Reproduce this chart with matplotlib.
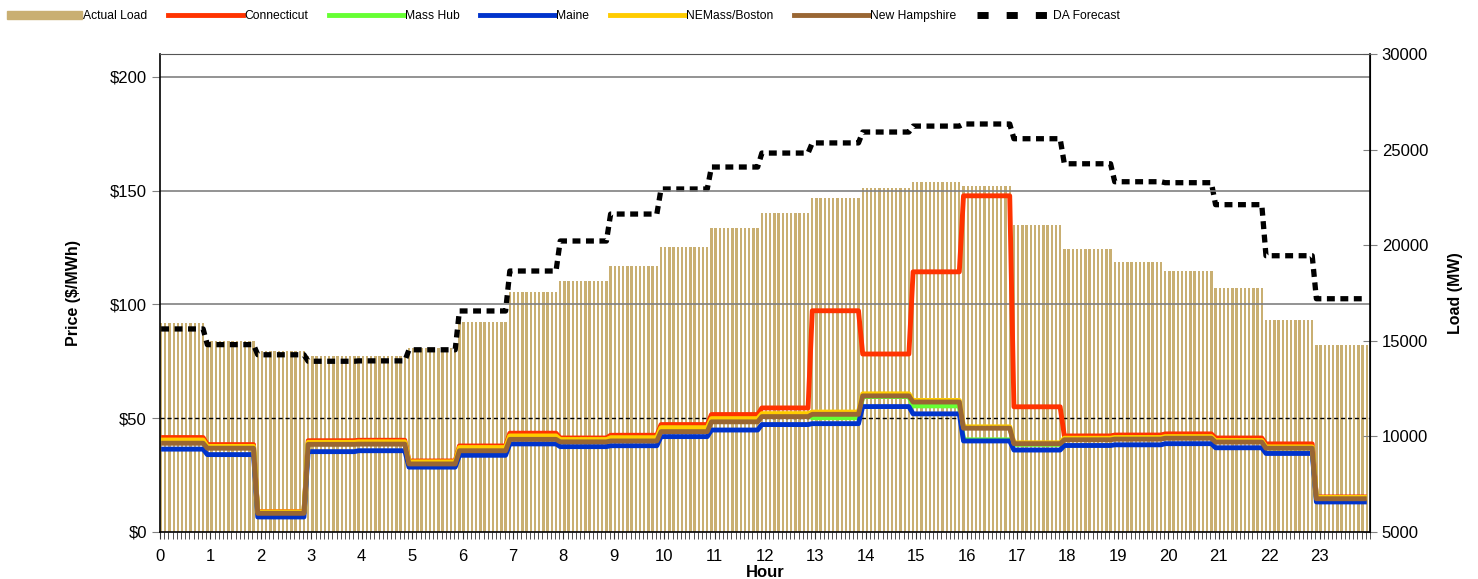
import numpy as np
import matplotlib.pyplot as plt
from matplotlib.ticker import MultipleLocator, FuncFormatter
from matplotlib.lines import Line2D
from matplotlib.patches import Patch

plt.rcParams['font.family'] = ['Liberation Sans', 'DejaVu Sans']

# valores horarios (hora 0 .. 23)
horas = list(range(24))

carga_real = [15950, 15000, 14470, 14200, 14200, 14620, 15980, 17550, 18130, 18910, 19900, 20900,
              21680, 22470, 23000, 23300, 23100, 21060, 19800, 19120, 18650, 17760, 16090, 14780]

pronostico_da = [15620, 14800, 14270, 13930, 13950, 14530, 16560, 18650, 20220, 21630, 22940, 24090,
                 24820, 25350, 25920, 26230, 26340, 25570, 24260, 23320, 23270, 22120, 19450, 17200]

connecticut = [41.5, 38.4, 8.9, 40.1, 40.3, 31.2, 37.8, 43.4, 41.3, 42.5, 47.2, 51.6,
               54.5, 97.2, 78.2, 114.3, 147.7, 55.0, 42.2, 42.6, 43.1, 41.3, 38.7, 15.4]
mass_hub = [40.0, 37.3, 8.4, 39.0, 39.2, 30.3, 36.5, 41.9, 40.4, 41.2, 45.6, 49.5,
            51.5, 50.2, 59.5, 55.4, 40.5, 38.5, 41.0, 41.3, 41.6, 39.8, 37.0, 14.8]
maine = [36.4, 34.0, 6.6, 35.3, 35.7, 28.5, 33.7, 38.7, 37.5, 37.9, 41.9, 44.8,
         47.2, 47.6, 55.1, 51.9, 40.0, 36.0, 38.0, 38.3, 38.8, 37.0, 34.5, 13.2]
nemass_boston = [40.4, 37.6, 8.8, 39.4, 39.6, 30.8, 37.1, 42.2, 40.6, 41.4, 45.8, 49.8,
                 52.0, 52.7, 60.7, 57.8, 46.2, 39.2, 41.2, 41.5, 41.9, 40.2, 37.4, 15.2]
new_hampshire = [39.0, 36.8, 8.2, 38.5, 38.6, 29.9, 35.7, 40.7, 39.6, 40.0, 44.1, 48.4,
                 50.7, 51.7, 59.8, 57.1, 45.6, 38.8, 40.5, 40.8, 41.2, 39.5, 36.8, 14.6]

color_carga = '#C9AF72'
colores = {
    'Connecticut': '#FF3300',
    'Mass Hub': '#66FF33',
    'Maine': '#0033CC',
    'NEMass/Boston': '#FFCC00',
    'New Hampshire': '#996633',
}


def a_cinco_minutos(valores):
    # 12 intervalos de 5 min por hora, el valor de la hora siguiente entra un intervalo antes
    serie = np.repeat(np.asarray(valores, dtype=float), 12)
    return np.r_[serie[1:], serie[-1]]


x = np.arange(len(horas) * 12) / 12 + 1 / 48

fig = plt.figure(figsize=(14.78, 5.79), dpi=100)
fig.subplots_adjust(left=0.1083, right=0.9269, top=0.9067, bottom=0.0812)
ax = fig.add_subplot(111)
ax2 = ax.twinx()
ax.set_zorder(ax2.get_zorder() + 1)
ax.patch.set_visible(False)

# carga (eje derecho)
ax2.bar(x, a_cinco_minutos(carga_real), width=0.56 / 12, color=color_carga, linewidth=0)
ax2.plot(x, a_cinco_minutos(pronostico_da), color='black', lw=3.8,
         ls=(0, (1.5, 1.05)), dash_capstyle='butt', solid_joinstyle='miter')

# precios (eje izquierdo)
series = [('Connecticut', connecticut), ('Mass Hub', mass_hub), ('Maine', maine),
          ('NEMass/Boston', nemass_boston), ('New Hampshire', new_hampshire)]
for nombre, valores in series:
    ax.plot(x, a_cinco_minutos(valores), color=colores[nombre], lw=3.5,
            solid_capstyle='butt')

# lineas de referencia
for y in [100, 150, 200]:
    ax.axhline(y, color='#808080', lw=1.2, zorder=0.5)
ax.axhline(50, color='black', lw=1, ls=(0, (3, 2)), zorder=0.5)

ax.set_xlim(0, 24)
ax.set_ylim(0, 210)
ax2.set_ylim(5000, 30000)

ax.set_xticks(horas)
ax.xaxis.set_minor_locator(MultipleLocator(1 / 12))
ax.set_yticks([0, 50, 100, 150, 200])
ax.yaxis.set_major_formatter(FuncFormatter(lambda v, p: f'${v:.0f}'))
ax2.yaxis.set_major_locator(MultipleLocator(5000))

ax.tick_params(axis='x', which='both', direction='out', length=5, color='#333333',
               labelsize=12, pad=7)
ax.tick_params(axis='y', direction='out', length=6, color='#808080', labelsize=12)
ax2.tick_params(axis='y', direction='inout', length=10, color='#808080', labelsize=12)

for lado in ['left', 'bottom', 'right']:
    ax.spines[lado].set_color('black')
    ax.spines[lado].set_linewidth(1.2)
ax.spines['top'].set_color('#555555')
for lado in ['left', 'bottom', 'top']:
    ax2.spines[lado].set_visible(False)
ax2.spines['right'].set_color('black')

ax.set_ylabel('Price ($/MWh)', fontsize=11.5, fontweight='bold', labelpad=21)
ax2.set_ylabel('Load (MW)', fontsize=11.5, fontweight='bold', labelpad=14)
ax.set_xlabel('Hour', fontsize=12, fontweight='bold', labelpad=1)

# leyenda arriba
manejadores = [Patch(color=color_carga)]
for nombre, _ in series:
    manejadores.append(Line2D([], [], color=colores[nombre], lw=3.5))
manejadores.append(Line2D([], [], color='black', lw=5, ls=(0, (1.6, 2.6)), dash_capstyle='butt'))
etiquetas = ['Actual Load'] + [n for n, _ in series] + ['DA Forecast']
fig.legend(manejadores, etiquetas, loc='upper left', bbox_to_anchor=(0.0, 0.995), ncol=7,
           frameon=False, fontsize=8.7, handlelength=6.2, handleheight=0.6,
           handletextpad=0.1, columnspacing=1.7, borderaxespad=0.2)

fig.savefig('out.png', dpi=100)
